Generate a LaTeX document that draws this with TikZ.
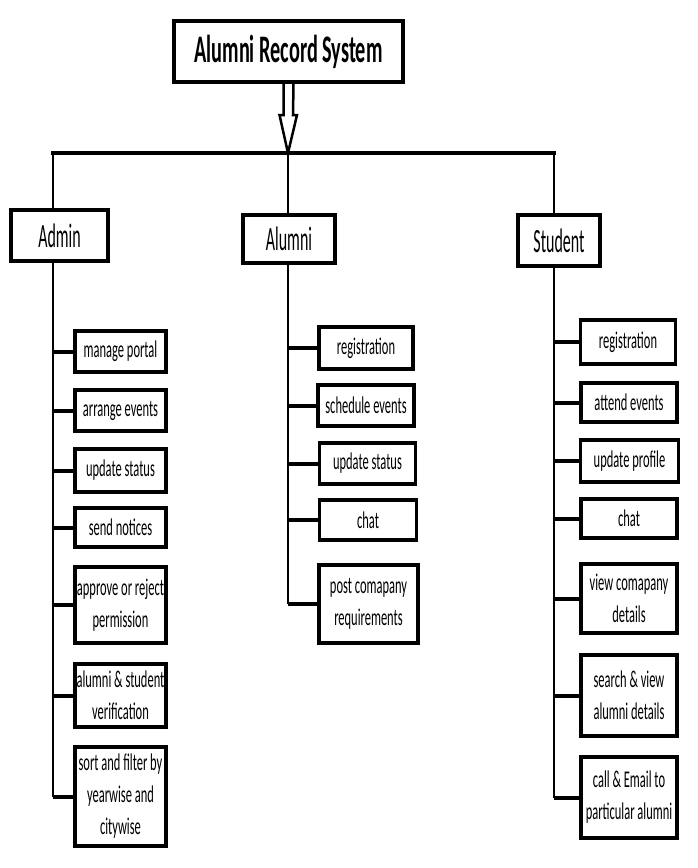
\documentclass[tikz,border=0pt]{standalone}
\usepackage{fontspec}
\usepackage{tikz}
\usetikzlibrary{calc}
\newfontfamily\titlefont[FakeStretch=0.52]{Carlito}
\newfontfamily\rolefont[FakeStretch=0.47]{Carlito}
\newfontfamily\taskfont[FakeStretch=0.52]{Carlito}
\tikzset{%
    topbox/.style={draw, line width=4pt, inner sep=0pt,
        font=\titlefont\bfseries\fontsize{39}{44}\selectfont},
    rolebox/.style={draw, line width=3.5pt, inner sep=0pt,
        font=\rolefont\fontsize{34}{38}\selectfont},
    taskbox/.style={draw, line width=3.5pt, inner sep=0pt, align=center,
        minimum width=#1, font=\taskfont\fontsize{24}{32}\selectfont},
    trunk/.style={line width=2.5pt},
    stub/.style={line width=4pt},
    hollow/.style={line width=2.5pt, line join=miter}
}

\begin{document}
\begin{tikzpicture}[x=1pt,y=-1pt]
\useasboundingbox (0,0) rectangle (697,868);
% top of the tree
\node[topbox, minimum width=229pt, minimum height=61pt] (title) at (288.5,51.5) {Alumni Record System};
\coordinate (hub) at (288,153);
\coordinate (adminbus) at (53,153);
\coordinate (studentbus) at (554,153);
\draw[stub, line cap=rect] (adminbus) -- (studentbus);
\draw[hollow] ($(title.south)+(-5,0)$) -- ++(0,31) -- ++(-4,0) -- (hub)
    -- ++(9,-38) -- ++(-4,0) -- ($(title.south)+(5,0)$);

% the three roles
\node[rolebox, minimum width=97pt, minimum height=51pt] (admin) at (59.5,235.5) {Admin};
\node[rolebox, minimum width=92pt, minimum height=48pt] (alumni) at (289,239) {Alumni};
\node[rolebox, minimum width=82pt, minimum height=51pt] (student) at (559,240.5) {Student};
\draw[trunk] (adminbus) -- (adminbus |- admin.north);
\draw[trunk] (hub) -- (hub |- alumni.north);
\draw[trunk] (studentbus) -- (studentbus |- student.north);

% admin tasks
\node[taskbox=91pt, minimum height=41pt] (a1) at (120.5,351.5) {manage portal};
\node[taskbox=91pt, minimum height=41pt] (a2) at (120.5,410.5) {arrange events};
\node[taskbox=91pt, minimum height=43pt] (a3) at (120.5,470.5) {update status};
\node[taskbox=91pt, minimum height=39pt] (a4) at (120.5,527.5) {send notices};
\node[taskbox=91pt, minimum height=76pt] (a5) at (120.5,605) {approve or reject\\permission};
\node[taskbox=91pt, minimum height=63pt] (a6) at (120.5,695.5) {alumni \& student\\verification};
\node[taskbox=91pt, minimum height=99pt] (a7) at (120.5,796.5) {sort and filter by\\yearwise and\\citywise};

% alumni tasks
\node[taskbox=94pt, minimum height=42pt] (b1) at (366,348) {registration};
\node[taskbox=96pt, minimum height=41pt] (b2) at (366,405.5) {schedule events};
\node[taskbox=96pt, minimum height=41pt] (b3) at (367.5,463.5) {update status};
\node[taskbox=97pt, minimum height=40pt] (b4) at (368,520) {chat};
\node[taskbox=99pt, minimum height=78pt] (b5) at (368.5,604) {post comapany\\requirements};

% student tasks
\node[taskbox=95pt, minimum height=44pt] (c1) at (628,342) {registration};
\node[taskbox=96pt, minimum height=39pt] (c2) at (629,402.5) {attend events};
\node[taskbox=98pt, minimum height=42pt] (c3) at (629.5,461) {update profile};
\node[taskbox=96pt, minimum height=39pt] (c4) at (629,518.5) {chat};
\node[taskbox=96pt, minimum height=69pt] (c5) at (629,598.5) {view comapany\\details};
\node[taskbox=96pt, minimum height=81pt] (c6) at (629,695.5) {search \& view\\alumni details};
\node[taskbox=96pt, minimum height=81pt] (c7) at (629,797.5) {call \& Email to\\particular alumni};

% trunks and stubs
\draw[trunk] (admin.south -| adminbus) -- (adminbus |- a7.west);
\draw[trunk] (alumni.south -| hub) -- (hub |- b5.west);
\draw[trunk] (student.south -| studentbus) -- (studentbus |- c7.west);
\foreach \t in {a1,a2,a3,a4,a5,a6,a7}
    \draw[stub] (adminbus |- \t.west) -- (\t.west);
\foreach \t in {b1,b2,b3,b4,b5}
    \draw[stub] (hub |- \t.west) -- (\t.west);
\foreach \t in {c1,c2,c3,c4,c5,c6,c7}
    \draw[stub] (studentbus |- \t.west) -- (\t.west);
\end{tikzpicture}
\end{document}
